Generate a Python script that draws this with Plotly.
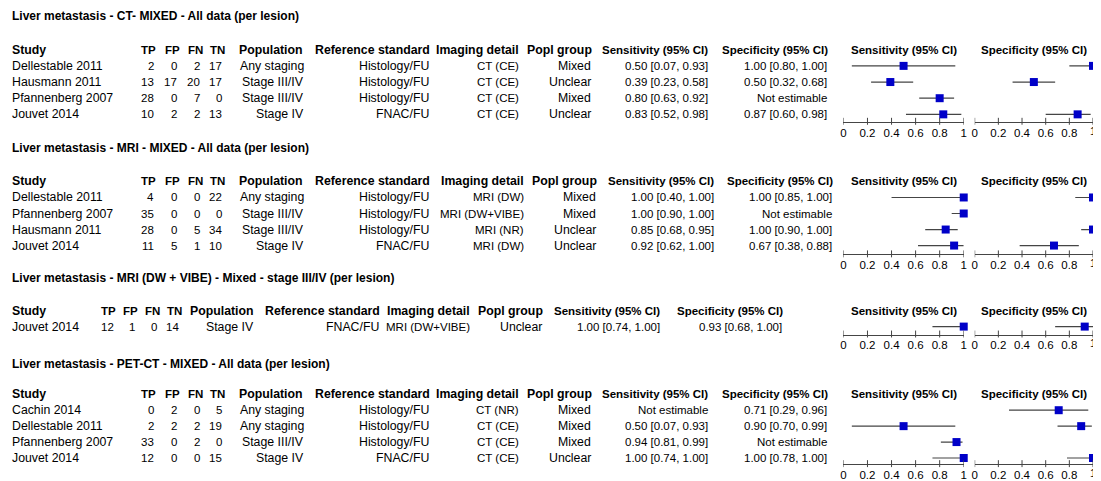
import plotly.graph_objects as go

W, H = 1101, 481
OFF = 8                      # default page body margin
FW, FH = W - OFF, H - OFF    # figure size so it fits the window
FONT = "Liberation Sans, Arial, sans-serif"
FS = 11.5        # numbers / CI headers
FS_TXT = 12.3    # word columns
FS_HEAD = 12.3   # word headers
FS_TITLE = 12

# ---------------- shared labels ----------------
headers = ["Study", "TP", "FP", "FN", "TN", "Population", "Reference standard",
           "Imaging detail", "Popl group", "Sensitivity (95% CI)", "Specificity (95% CI)"]
forest_headers = ["Sensitivity (95% CI)", "Specificity (95% CI)"]
tick_vals = [0, 0.2, 0.4, 0.6, 0.8, 1]
tick_text = ["0", "0.2", "0.4", "0.6", "0.8", "1"]

# ---------------- section 1 ----------------
s1_title = "Liver metastasis - CT- MIXED - All data (per lesion)"
s1_study = ["Dellestable 2011", "Hausmann 2011", "Pfannenberg 2007", "Jouvet 2014"]
s1_tp = [2, 13, 28, 10]
s1_fp = [0, 17, 0, 2]
s1_fn = [2, 20, 7, 2]
s1_tn = [17, 17, 0, 13]
s1_pop = ["Any staging", "Stage III/IV", "Stage III/IV", "Stage IV"]
s1_ref = ["Histology/FU", "Histology/FU", "Histology/FU", "FNAC/FU"]
s1_img = ["CT (CE)", "CT (CE)", "CT (CE)", "CT (CE)"]
s1_grp = ["Mixed", "Unclear", "Mixed", "Unclear"]
s1_sens = [0.50, 0.39, 0.80, 0.83]
s1_sens_lo = [0.07, 0.23, 0.63, 0.52]
s1_sens_hi = [0.93, 0.58, 0.92, 0.98]
s1_spec = [1.00, 0.50, None, 0.87]
s1_spec_lo = [0.80, 0.32, None, 0.60]
s1_spec_hi = [1.00, 0.68, None, 0.98]

# ---------------- section 2 ----------------
s2_title = "Liver metastasis - MRI - MIXED - All data (per lesion)"
s2_study = ["Dellestable 2011", "Pfannenberg 2007", "Hausmann 2011", "Jouvet 2014"]
s2_tp = [4, 35, 28, 11]
s2_fp = [0, 0, 0, 5]
s2_fn = [0, 0, 5, 1]
s2_tn = [22, 0, 34, 10]
s2_pop = ["Any staging", "Stage III/IV", "Stage III/IV", "Stage IV"]
s2_ref = ["Histology/FU", "Histology/FU", "Histology/FU", "FNAC/FU"]
s2_img = ["MRI (DW)", "MRI (DW+VIBE)", "MRI (NR)", "MRI (DW)"]
s2_grp = ["Mixed", "Mixed", "Unclear", "Unclear"]
s2_sens = [1.00, 1.00, 0.85, 0.92]
s2_sens_lo = [0.40, 0.90, 0.68, 0.62]
s2_sens_hi = [1.00, 1.00, 0.95, 1.00]
s2_spec = [1.00, None, 1.00, 0.67]
s2_spec_lo = [0.85, None, 0.90, 0.38]
s2_spec_hi = [1.00, None, 1.00, 0.88]

# ---------------- section 3 ----------------
s3_title = "Liver metastasis - MRI (DW + VIBE) - Mixed - stage III/IV (per lesion)"
s3_study = ["Jouvet 2014"]
s3_tp = [12]
s3_fp = [1]
s3_fn = [0]
s3_tn = [14]
s3_pop = ["Stage IV"]
s3_ref = ["FNAC/FU"]
s3_img = ["MRI (DW+VIBE)"]
s3_grp = ["Unclear"]
s3_sens = [1.00]
s3_sens_lo = [0.74]
s3_sens_hi = [1.00]
s3_spec = [0.93]
s3_spec_lo = [0.68]
s3_spec_hi = [1.00]

# ---------------- section 4 ----------------
s4_title = "Liver metastasis - PET-CT - MIXED - All data (per lesion)"
s4_study = ["Cachin 2014", "Dellestable 2011", "Pfannenberg 2007", "Jouvet 2014"]
s4_tp = [0, 2, 33, 12]
s4_fp = [2, 2, 0, 0]
s4_fn = [0, 2, 2, 0]
s4_tn = [5, 19, 0, 15]
s4_pop = ["Any staging", "Any staging", "Stage III/IV", "Stage IV"]
s4_ref = ["Histology/FU", "Histology/FU", "Histology/FU", "FNAC/FU"]
s4_img = ["CT (NR)", "CT (CE)", "CT (CE)", "CT (CE)"]
s4_grp = ["Mixed", "Mixed", "Mixed", "Unclear"]
s4_sens = [None, 0.50, 0.94, 1.00]
s4_sens_lo = [None, 0.07, 0.81, 0.74]
s4_sens_hi = [None, 0.93, 0.99, 1.00]
s4_spec = [0.71, 0.90, None, 1.00]
s4_spec_lo = [0.29, 0.70, None, 0.78]
s4_spec_hi = [0.96, 0.99, None, 1.00]


def ci_text(e, lo, hi):
    if e is None:
        return "Not estimable"
    return f"{e:.2f} [{lo:.2f}, {hi:.2f}]"


def build(title, study, tp, fp, fn, tn, pop, ref, img, grp, se, se_lo, se_hi, sp, sp_lo, sp_hi):
    rows = []
    for i in range(len(study)):
        rows.append([study[i], str(tp[i]), str(fp[i]), str(fn[i]), str(tn[i]), pop[i], ref[i], img[i], grp[i],
                     ci_text(se[i], se_lo[i], se_hi[i]), ci_text(sp[i], sp_lo[i], sp_hi[i])])
    return dict(title=title, rows=rows,
                forest=[(se, se_lo, se_hi), (sp, sp_lo, sp_hi)])


sections = [
    build(s1_title, s1_study, s1_tp, s1_fp, s1_fn, s1_tn, s1_pop, s1_ref, s1_img, s1_grp,
          s1_sens, s1_sens_lo, s1_sens_hi, s1_spec, s1_spec_lo, s1_spec_hi),
    build(s2_title, s2_study, s2_tp, s2_fp, s2_fn, s2_tn, s2_pop, s2_ref, s2_img, s2_grp,
          s2_sens, s2_sens_lo, s2_sens_hi, s2_spec, s2_spec_lo, s2_spec_hi),
    build(s3_title, s3_study, s3_tp, s3_fp, s3_fn, s3_tn, s3_pop, s3_ref, s3_img, s3_grp,
          s3_sens, s3_sens_lo, s3_sens_hi, s3_spec, s3_spec_lo, s3_spec_hi),
    build(s4_title, s4_study, s4_tp, s4_fp, s4_fn, s4_tn, s4_pop, s4_ref, s4_img, s4_grp,
          s4_sens, s4_sens_lo, s4_sens_hi, s4_spec, s4_spec_lo, s4_spec_hi),
]

# ---------------- layout (pixel positions in the window) ----------------
WIDE_H = [12, 152, 176, 199, 221, 300, 427, 517, 590, 707, 828]
WIDE_V = [12, 150, 173, 196, 218, 301, 426, 517, 589, 707, 827]
S2_H = [12, 152, 176, 199, 221, 300, 427, 522, 595, 713, 833]
S2_V = [12, 150, 173, 196, 218, 301, 426, 522, 594, 713, 832]
S3_H = [12, 112, 134, 156, 178, 250, 377, 468, 541, 659, 782]
S3_V = [12, 110, 131, 153, 175, 250, 376, 468, 540, 659, 781]
TEXT_COLS = {0, 5, 6, 8}          # lower-case word columns
WORD_HEADS = {0, 5, 6, 7, 8}

geo = [
    dict(title=16.5, head=50.5, row0=66.5, dy=16.33, axis=123, hx=WIDE_H, vx=WIDE_V),
    dict(title=149, head=183, row0=199.5, dy=16.2, axis=257, hx=S2_H, vx=S2_V),
    dict(title=281, head=314, row0=330, dy=16.3, axis=338, hx=S3_H, vx=S3_V),
    dict(title=368, head=398.5, row0=414.5, dy=16.1, axis=469, hx=WIDE_H, vx=WIDE_V),
]
FOREST_X = [(845, 966), (977, 1096)]
PAD_L, PAD_R = 5, 4   # annotation inner padding compensation


def px(x):
    return (x - OFF) / FW


def py(y):
    return 1 - (y - OFF) / FH


fig = go.Figure()
annotations = []
shapes = []
layout_axes = {}

INK = "#000000"
LINE = "#454545"
BLUE = "#0000c8"


def ann(x, y, text, anchor, size):
    xx = x - PAD_L if anchor == "left" else (x + PAD_R if anchor == "right" else x)
    annotations.append(dict(x=px(xx), y=py(y), text=text, xanchor=anchor, yanchor="middle",
                            xref="paper", yref="paper", showarrow=False,
                            font=dict(size=size, color=INK)))


ax = 0
for s, g in zip(sections, geo):
    ann(12, g["title"], f"<b>{s['title']}</b>", "left", FS_TITLE)
    for j, h in enumerate(headers):
        ann(g["hx"][j], g["head"], f"<b>{h}</b>", "left" if j == 0 else "right",
            FS_HEAD if j in WORD_HEADS else FS)
    for k, (x0, x1) in enumerate(FOREST_X):
        ann((x0 + x1) / 2, g["head"], f"<b>{forest_headers[k]}</b>", "center", FS)
    for i, row in enumerate(s["rows"]):
        yy = g["row0"] + i * g["dy"]
        for j, v in enumerate(row):
            ann(g["vx"][j], yy, v, "left" if j == 0 else "right", FS_TXT if j in TEXT_COLS else FS)
    # forest panels
    n = len(s["rows"])
    top_px = g["head"] + 8
    v_bottom = (g["axis"] - g["row0"]) / g["dy"]
    v_top = (top_px - g["row0"]) / g["dy"]
    for k, (x0, x1) in enumerate(FOREST_X):
        ax += 1
        est, lo, hi = s["forest"][k]
        plus = [None if e is None else h - e for e, h in zip(est, hi)]
        minus = [None if e is None else e - l for e, l in zip(est, lo)]
        xa = f"x{ax}" if ax > 1 else "x"
        ya = f"y{ax}" if ax > 1 else "y"
        fig.add_trace(go.Scatter(
            x=est, y=list(range(n)), mode="markers", xaxis=xa, yaxis=ya, cliponaxis=False,
            marker=dict(symbol="square", size=8, color=BLUE, line=dict(width=0)),
            error_x=dict(type="data", symmetric=False, array=plus, arrayminus=minus,
                         width=0, color=LINE, thickness=1.2),
            showlegend=False, hoverinfo="skip"))
        xname = "xaxis" if ax == 1 else f"xaxis{ax}"
        yname = "yaxis" if ax == 1 else f"yaxis{ax}"
        edge_panel = (k == 1)
        # the right-most panel's last label sits at the page edge: drawn as an annotation
        ttext = tick_text[:-1] + [""] if edge_panel else tick_text
        layout_axes[xname] = dict(domain=[px(x0), px(x1)], range=[-0.0001, 1.0001], anchor=ya,
                                  showline=True, linecolor=LINE, linewidth=1, ticks="",
                                  tickmode="array", tickvals=tick_vals, ticktext=ttext,
                                  ticklabeloverflow="allow",
                                  showgrid=False, zeroline=False, fixedrange=True,
                                  tickfont=dict(size=FS, color=INK, family=FONT))
        layout_axes[yname] = dict(domain=[py(g["axis"]), py(top_px)], range=[v_bottom, v_top],
                                  anchor=xa, visible=False, showgrid=False, zeroline=False,
                                  fixedrange=True)
        if edge_panel:
            annotations.append(dict(x=tick_vals[-1], xref=xa, y=py(g["axis"] + 9), yref="paper",
                                    text=tick_text[-1], showarrow=False, xanchor="center",
                                    yanchor="middle", font=dict(size=FS, color=INK)))
        for tv in tick_vals:
            shapes.append(dict(type="line", xref=xa, yref="paper", x0=tv, x1=tv,
                               y0=py(g["axis"] + 3), y1=py(g["axis"] - 4),
                               line=dict(color=LINE, width=1)))

fig.update_layout(
    width=FW, height=FH, margin=dict(l=0, r=0, t=0, b=0),
    paper_bgcolor="white", plot_bgcolor="rgba(0,0,0,0)",
    font=dict(family=FONT, size=FS, color=INK),
    annotations=annotations, shapes=shapes, showlegend=False,
    **layout_axes)

fig.write_html("out.html")
